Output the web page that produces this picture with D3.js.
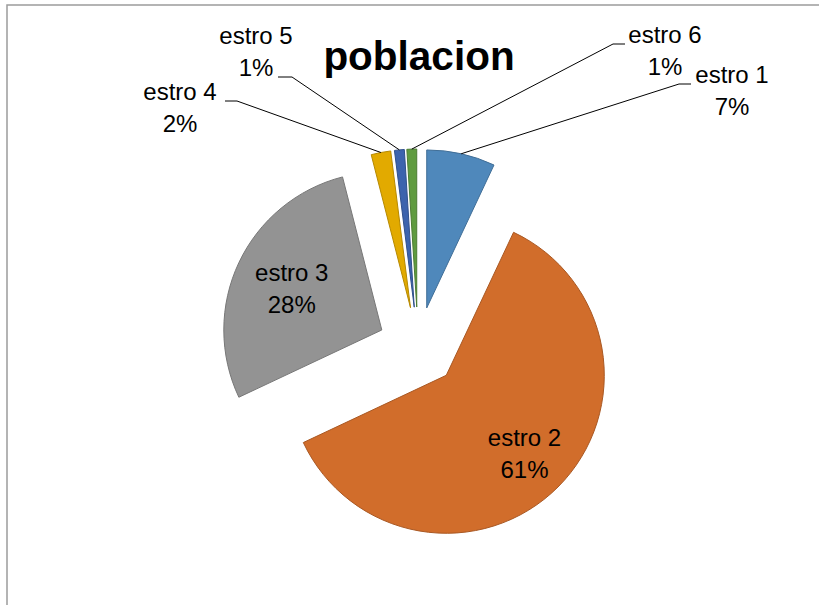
<!doctype html>
<html lang="es">
  <head>
    <meta charset="utf-8">
    <title>poblacion</title>
    <script src="https://d3js.org/d3.v7.min.js"></script>
    <style>
      body { margin: 0; background: #fff; }
      text { font-family: "Liberation Sans", Arial, sans-serif; }
    </style>
  </head>
  <body>
    <div id="chart"></div>
    <script type="text/javascript">
    // data
    var categories = ["estro 1", "estro 2", "estro 3", "estro 4", "estro 5", "estro 6"];
    var values = [7, 61, 28, 2, 1, 1];
    var colors = ["#4f88bb", "#d16d2b", "#939393", "#e2aa00", "#3c63ad", "#5f9b3f"];

    // layout
    var width = 819,
        height = 605,
        center = {x: 418, y: 347},
        radius = 158,
        explode = 40;

    // outside labels: text centre x, first baseline y, leader hook [x0, x1, y]
    var outside = {
        0: {x: 732, y: 83, hook: [691, 679, 84]},
        3: {x: 180, y: 100, hook: [225, 237, 101]},
        4: {x: 256, y: 44, hook: [278, 292, 77]},
        5: {x: 665, y: 43, hook: [625, 613, 44]}
    };
    // inside labels: distance from slice tip, as fraction of radius
    var inside = {1: 0.7, 2: 0.63};

    const svg = d3.select("#chart")
        .append("svg")
        .attr("width", width)
        .attr("height", height);

    // chart frame (only top and left edges visible)
    svg.append("rect")
        .attr("x", 7)
        .attr("y", 5)
        .attr("width", 900)
        .attr("height", 700)
        .attr("fill", "none")
        .attr("stroke", "#9c9c9c")
        .attr("stroke-width", 1.5);

    svg.append("text")
        .attr("x", 419)
        .attr("y", 70)
        .attr("text-anchor", "middle")
        .style("font-size", "40.5px")
        .style("font-weight", "bold")
        .text("poblacion");

    const pie = d3.pie().sort(null).value(d => d);
    const arcs = pie(values);
    const arc = d3.arc().innerRadius(0).outerRadius(radius);

    function offset(d, dist) {
        var mid = (d.startAngle + d.endAngle) / 2;
        return [Math.sin(mid) * dist, -Math.cos(mid) * dist];
    }

    const gPie = svg.append("g")
        .attr("transform", "translate(" + center.x + "," + center.y + ")");

    gPie.selectAll("path")
        .data(arcs)
        .enter()
        .append("path")
        .attr("transform", d => {
            var o = offset(d, explode);
            return "translate(" + o[0] + "," + o[1] + ")";
        })
        .attr("d", arc)
        .attr("fill", (d, i) => colors[i])
        .attr("stroke", (d, i) => d3.color(colors[i]).darker(0.6))
        .attr("stroke-width", 1);

    // labels
    arcs.forEach((d, i) => {
        var pct = Math.round(d.value / d3.sum(values) * 100) + "%";
        if (outside[i]) {
            var L = outside[i];
            var tip = offset(d, explode + radius);
            svg.append("polyline")
                .attr("points", [[L.hook[0], L.hook[2]], [L.hook[1], L.hook[2]],
                                 [center.x + tip[0], center.y + tip[1]]].join(" "))
                .attr("fill", "none")
                .attr("stroke", "#000")
                .attr("stroke-width", 1);
            var t = svg.append("text")
                .attr("text-anchor", "middle")
                .style("font-size", "24px");
            t.append("tspan").attr("x", L.x).attr("y", L.y).text(categories[i]);
            t.append("tspan").attr("x", L.x).attr("y", L.y + 32).text(pct);
        } else {
            var p = offset(d, explode + radius * inside[i]);
            var t = svg.append("text")
                .attr("text-anchor", "middle")
                .style("font-size", "24px");
            t.append("tspan").attr("x", center.x + p[0]).attr("y", center.y + p[1] - 7).text(categories[i]);
            t.append("tspan").attr("x", center.x + p[0]).attr("y", center.y + p[1] + 25).text(pct);
        }
    });
    </script>
  </body>
</html>
